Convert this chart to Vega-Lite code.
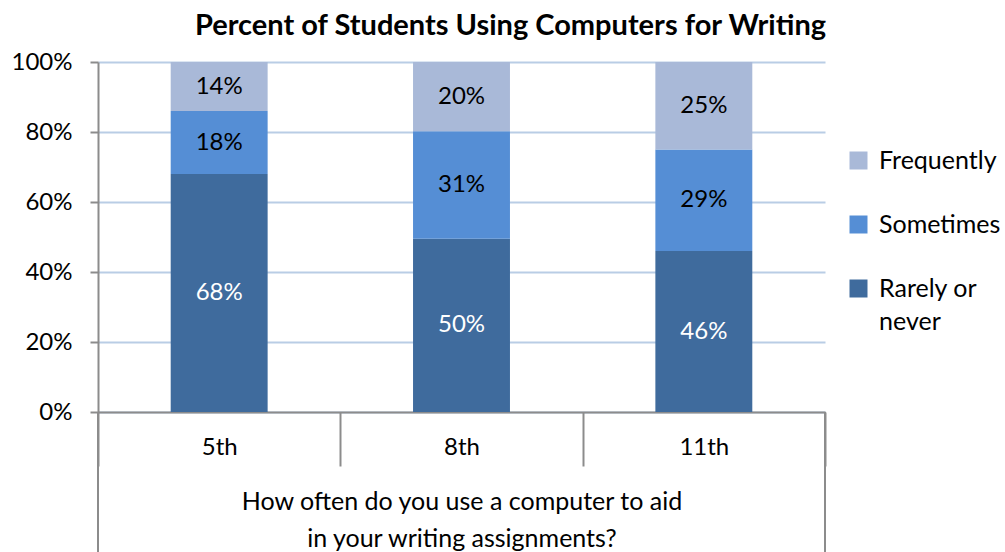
{
  "$schema": "https://vega.github.io/schema/vega-lite/v6.json",
  "width": 727,
  "height": 350,
  "autosize": {"type": "none"},
  "padding": {"left": 98, "top": 62, "right": 180, "bottom": 140},
  "background": "white",
  "config": {
    "font": "Lato",
    "view": {"stroke": null},
    "axis": {"labelFont": "Lato", "titleFont": "Lato", "labelColor": "black", "titleColor": "black"},
    "style": {"guide-label": {"lineHeight": 33}}
  },
  "title": {
    "text": "Percent of Students Using Computers for Writing",
    "font": "Lato",
    "fontSize": 29,
    "fontWeight": "bold",
    "color": "black",
    "anchor": "middle",
    "dx": 49,
    "offset": 9
  },
  "data": {
    "values": [
      {"grade": "5th", "freq": "Rarely or never", "ord": 1, "value": 0.68},
      {"grade": "5th", "freq": "Sometimes", "ord": 2, "value": 0.18},
      {"grade": "5th", "freq": "Frequently", "ord": 3, "value": 0.14},
      {"grade": "8th", "freq": "Rarely or never", "ord": 1, "value": 0.50},
      {"grade": "8th", "freq": "Sometimes", "ord": 2, "value": 0.31},
      {"grade": "8th", "freq": "Frequently", "ord": 3, "value": 0.20},
      {"grade": "11th", "freq": "Rarely or never", "ord": 1, "value": 0.46},
      {"grade": "11th", "freq": "Sometimes", "ord": 2, "value": 0.29},
      {"grade": "11th", "freq": "Frequently", "ord": 3, "value": 0.25}
    ]
  },
  "layer": [
    {
      "mark": {"type": "bar", "width": {"band": 0.4}},
      "encoding": {
        "x": {
          "field": "grade",
          "type": "nominal",
          "sort": ["5th", "8th", "11th"],
          "scale": {"paddingInner": 0, "paddingOuter": 0},
          "axis": {
            "title": ["How often do you use a computer to aid", "in your writing assignments?"],
            "titleFontSize": 25,
            "titleFontWeight": "normal",
            "titleLineHeight": 37,
            "titlePadding": 22,
            "labelFontSize": 24,
            "labelAngle": 0,
            "labelPadding": -19,
            "labelBaseline": "middle",
            "tickBand": "extent",
            "tickSize": 54,
            "tickColor": "#8C8C8C",
            "tickWidth": 2,
            "domainColor": "#8C8C8C",
            "domainWidth": 2
          }
        },
        "y": {
          "field": "value",
          "type": "quantitative",
          "stack": "normalize",
          "scale": {"domain": [0, 1], "nice": false},
          "axis": {
            "title": null,
            "format": ".0%",
            "values": [0, 0.2, 0.4, 0.6, 0.8, 1],
            "labelFontSize": 24,
            "labelPadding": 18,
            "tickSize": 8,
            "tickColor": "#8C8C8C",
            "tickWidth": 2,
            "domainColor": "#8C8C8C",
            "domainWidth": 2,
            "grid": true,
            "gridColor": "#B9CDE5",
            "gridWidth": 2
          }
        },
        "color": {
          "field": "freq",
          "type": "nominal",
          "scale": {
            "domain": ["Frequently", "Sometimes", "Rarely or never"],
            "range": ["#A9B9D8", "#558ED5", "#3F6B9D"]
          },
          "legend": {
            "title": null,
            "orient": "none",
            "legendX": 748,
            "legendY": 86,
            "padding": 0,
            "symbolType": "square",
            "symbolSize": 324,
            "symbolStrokeWidth": 0,
            "symbolOpacity": 1,
            "labelFont": "Lato",
            "labelFontSize": 25,
            "labelColor": "black",
            "labelLimit": 200,
            "labelBaseline": "middle",
            "labelOffset": 8,
            "rowPadding": 38,
            "labelExpr": "datum.label == 'Rarely or never' ? ['Rarely or', 'never'] : datum.label"
          }
        },
        "order": {"field": "ord", "type": "quantitative"}
      }
    },
    {
      "mark": {"type": "text", "fontSize": 24, "font": "Lato", "baseline": "middle"},
      "encoding": {
        "x": {"field": "grade", "type": "nominal", "sort": ["5th", "8th", "11th"]},
        "y": {"field": "value", "type": "quantitative", "stack": "normalize", "bandPosition": 0.5},
        "detail": {"field": "freq"},
        "order": {"field": "ord", "type": "quantitative"},
        "text": {"field": "value", "type": "quantitative", "format": ".0%"},
        "color": {
          "condition": {"test": "datum.freq === 'Rarely or never'", "value": "white"},
          "value": "black"
        }
      }
    },
    {
      "data": {"values": [{"edge": "left"}]},
      "mark": {"type": "rule", "color": "#8C8C8C", "strokeWidth": 2},
      "encoding": {
        "x": {"datum": "5th", "type": "nominal", "bandPosition": 0},
        "y": {"datum": 0, "type": "quantitative"},
        "y2": {"datum": -0.4}
      }
    },
    {
      "data": {"values": [{"edge": "right"}]},
      "mark": {"type": "rule", "color": "#8C8C8C", "strokeWidth": 2},
      "encoding": {
        "x": {"datum": "11th", "type": "nominal", "bandPosition": 1},
        "y": {"datum": 0, "type": "quantitative"},
        "y2": {"datum": -0.4}
      }
    }
  ]
}
